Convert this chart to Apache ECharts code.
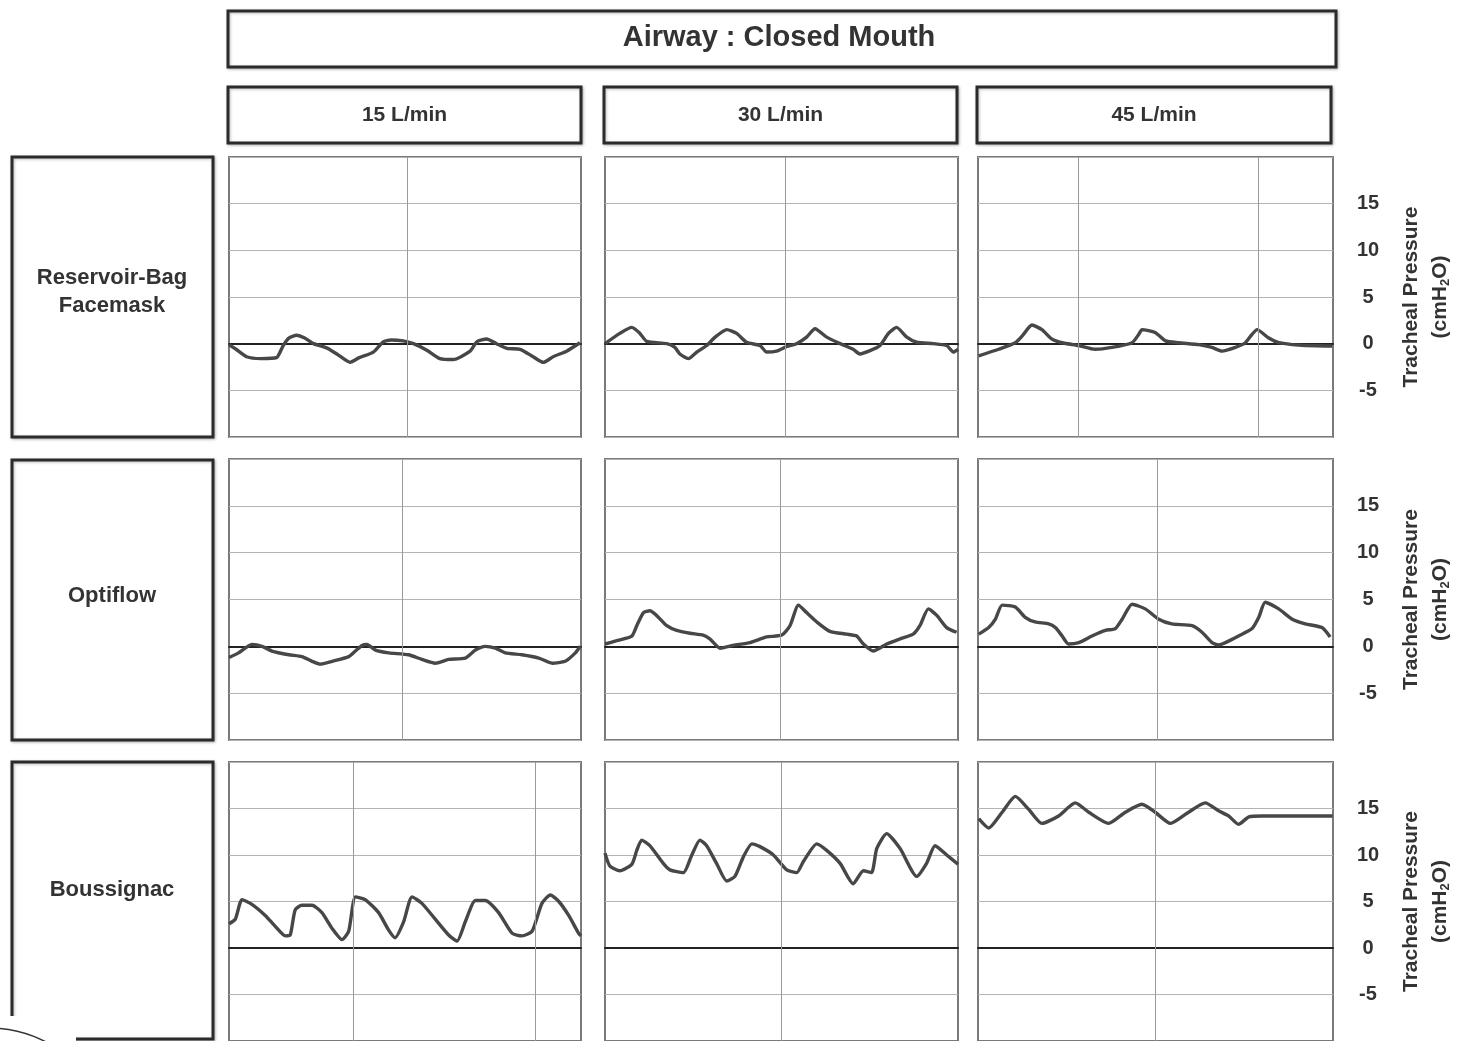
<!DOCTYPE html>
<html>
<head>
<meta charset="utf-8">
<script src="https://cdn.jsdelivr.net/npm/echarts@6/dist/echarts.min.js"></script>
<style>
html,body{margin:0;padding:0;background:#fff;}
#chart{width:1458px;height:1041px;}
</style>
</head>
<body>
<div id="chart"></div>
<script>
// ---------- DATA ----------
const chartTitle = 'Airway : Closed Mouth';
const colNames = ['15 L/min', '30 L/min', '45 L/min'];
const rowNames = ['Reservoir-Bag\nFacemask', 'Optiflow', 'Boussignac'];
const yTickLabels = [-5, 0, 5, 10, 15];
const yAxisTitle = 'Tracheal Pressure';
const yAxisUnit = ['(cmH', '2', 'O)'];

// time (% of panel window) , tracheal pressure (cmH2O)
const bagFace15 = [[0,-0.1],[2,-0.6],[5,-1.4],[9,-1.6],[13.5,-1.5],[15.4,-0.2],[17,0.6],[19.2,0.9],[21.5,0.6],[24,0.0],[28,-0.5],[31,-1.2],[34.4,-2.0],[37,-1.5],[41,-0.9],[43.8,0.2],[46,0.4],[49.5,0.3],[52.4,0.0],[56.2,-0.7],[59.9,-1.6],[63.7,-1.7],[68.5,-0.8],[70.4,0.2],[73.2,0.5],[76,0.0],[78.9,-0.5],[82.7,-0.6],[86.4,-1.4],[89.3,-2.0],[92.1,-1.4],[95.9,-0.8],[99.7,0.1]];
const bagFace30 = [[0,0.0],[4.2,1.1],[7.6,1.75],[9.9,1.1],[11.8,0.25],[17.5,0],[19.8,-0.4],[21.2,-1.1],[23.6,-1.6],[26,-0.9],[28.8,-0.2],[31.2,0.7],[34.5,1.5],[37.3,1.1],[40.1,0.15],[43.9,-0.2],[45.8,-0.9],[48.6,-0.8],[51.5,-0.3],[54.3,0],[57.1,0.7],[59.5,1.6],[62.8,0.7],[66.6,0],[70.3,-0.6],[72.2,-1.1],[75.1,-0.75],[77.9,-0.2],[80.3,1.1],[82.6,1.75],[85.5,0.7],[88.3,0.15],[93,0],[96.8,-0.2],[98.7,-0.9],[100,-0.6]];
const bagFace45 = [[0.2,-1.3],[5.8,-0.6],[10.5,0.1],[12.4,0.8],[15.2,2.0],[18,1.5],[20.8,0.5],[23.7,0.1],[28.4,-0.2],[33,-0.6],[37.7,-0.4],[43.4,0.1],[45.3,1.0],[46.2,1.5],[49.9,1.2],[52.8,0.3],[56.5,0.1],[62.2,-0.1],[65.9,-0.4],[68.7,-0.8],[72.5,-0.4],[75.3,0.1],[77.2,1.0],[78.6,1.5],[81.9,0.6],[84.7,0.1],[88.5,-0.1],[92.2,-0.2],[97.8,-0.25],[99.8,-0.25]];
const optiflow15 = [[0,-1.2],[2.7,-0.7],[6.5,0.2],[9.4,0.0],[12.2,-0.5],[17,-0.9],[20.7,-1.1],[23.6,-1.6],[25.9,-1.9],[29.3,-1.6],[34,-1.1],[35.9,-0.5],[37.8,0.1],[39.2,0.2],[41.6,-0.4],[45.4,-0.7],[51,-0.9],[54.8,-1.4],[58.6,-1.8],[62.4,-1.4],[67.1,-1.25],[70,-0.4],[72.8,0.0],[75.7,-0.2],[78.5,-0.7],[83.2,-0.9],[88,-1.25],[91.8,-1.8],[95.5,-1.6],[98.4,-0.7],[99.8,0.0]];
const optiflow30 = [[0,0.25],[3.3,0.6],[7.6,1.1],[9,2.2],[10.9,3.6],[12.7,3.8],[14.6,3.3],[17.5,2.2],[20.3,1.7],[24.1,1.4],[27.8,1.2],[29.7,0.8],[32.6,-0.2],[36.3,0.1],[41.1,0.4],[45.8,1.0],[50.1,1.2],[52.4,2.2],[54.8,4.4],[57.1,3.6],[60,2.6],[63.7,1.6],[68.5,1.3],[71.3,1.1],[73.2,0.25],[76,-0.5],[79.8,0.25],[83.6,0.8],[87.3,1.3],[89.2,2.2],[91.6,4.0],[94,3.3],[96.8,2.0],[99.6,1.5]];
const optiflow45 = [[0.2,1.3],[3,2.0],[4.9,2.9],[6.8,4.4],[10.5,4.2],[13.3,3.1],[16.1,2.6],[19.9,2.4],[21.8,2.0],[23.7,1.1],[25.5,0.25],[28.4,0.4],[32.1,1.1],[35.9,1.7],[38.7,1.9],[40.6,2.9],[43.4,4.5],[47.1,4.0],[50.9,2.9],[54.6,2.4],[60.3,2.2],[63.1,1.5],[65.9,0.4],[67.8,0.15],[69.7,0.4],[73.4,1.1],[77.2,1.9],[79.1,3.1],[80.9,4.7],[84.7,4.0],[88.5,2.9],[92.2,2.4],[96.9,2.0],[99.2,1.0]];
const boussignac15 = [[0,2.6],[1.8,3.1],[3.7,5.2],[6.5,4.7],[10.3,3.5],[13.2,2.3],[16,1.3],[17.4,1.4],[18.8,4.1],[20.7,4.6],[23.6,4.6],[26.4,3.8],[29.3,2.1],[32.1,0.9],[34,1.8],[35.9,5.5],[38.7,5.2],[42.5,3.8],[45.4,1.9],[47.2,1.1],[49.6,2.8],[52,5.5],[54.8,4.8],[58.6,3.1],[62.4,1.4],[64.8,0.75],[67.1,2.8],[70,5.1],[72.8,5.1],[76.6,3.8],[80.4,1.6],[83.2,1.3],[86.1,1.8],[88.9,4.8],[91.3,5.7],[93.7,5.0],[96.5,3.5],[99.3,1.6],[100,1.3]];
const boussignac30 = [[0,10.2],[1.4,8.8],[4.2,8.3],[7.6,9.0],[9,10.5],[10.4,11.6],[12.7,11.0],[16.5,9.1],[18.4,8.4],[22.2,8.1],[24.6,10.0],[26.9,11.6],[28.8,11.0],[31.6,9.1],[34.5,7.2],[36.8,7.7],[39.2,9.8],[41.6,11.2],[43.9,10.9],[47.7,10.0],[51.5,8.4],[54.3,8.1],[56.2,9.3],[60,11.2],[62.8,10.5],[66.6,9.1],[70.3,6.9],[73.2,8.3],[75.5,8.1],[77,10.7],[79.8,12.3],[83.6,10.7],[88.3,7.7],[91.1,9.1],[93.5,11.0],[96.8,10.0],[100,9.0]];
const boussignac45 = [[0.2,13.9],[3,12.9],[6.8,14.6],[10.5,16.3],[14.3,14.9],[18,13.4],[22.7,14.2],[27.4,15.6],[31.2,14.6],[36.8,13.4],[41.5,14.6],[46.2,15.45],[49.9,14.6],[54.2,13.4],[59.3,14.6],[64,15.6],[67.8,14.75],[70.6,14.2],[73.4,13.3],[76.3,14.1],[80,14.2],[87.5,14.2],[93.2,14.2],[99.9,14.2]];

// vertical time-grid positions (% of window) per panel
const timeGrid = [[50.5],[51],[28.2,78.9],[49.1],[49.6],[50.4],[35.4,87.0],[50],[50]];

// ---------- LAYOUT ----------
const panels = [bagFace15, bagFace30, bagFace45, optiflow15, optiflow30, optiflow45, boussignac15, boussignac30, boussignac45];
const colLeft = [229, 605, 978];
const colWidth = [352, 353, 355];
const rowTop = [157, 459, 762];
const rowHeight = [280, 281, 284];
const FONT = '"Liberation Sans", Arial, sans-serif';

const chart = echarts.init(document.getElementById('chart'), null, {renderer: 'canvas'});

const grids = [], xAxes = [], yAxes = [], series = [];
for (let r = 0; r < 3; r++) {
  for (let c = 0; c < 3; c++) {
    const i = r * 3 + c;
    grids.push({
      left: colLeft[c], top: rowTop[r], width: colWidth[c], height: rowHeight[r],
      show: true, borderColor: '#7a7a7a', borderWidth: 2, backgroundColor: 'transparent', containLabel: false
    });
    xAxes.push({
      type: 'value', gridIndex: i, min: 0, max: 100,
      axisLine: {show: true, onZero: true, lineStyle: {color: '#222', width: 2}},
      axisTick: {show: false}, axisLabel: {show: false}, splitLine: {show: false}
    });
    const isRight = c === 2;
    yAxes.push({
      type: 'value', gridIndex: i, min: -10, max: 20, interval: 5,
      position: 'right',
      axisLine: {show: false}, axisTick: {show: false},
      axisLabel: {
        show: isRight, margin: 35, align: 'center',
        color: '#333', fontSize: 20, fontWeight: 'bold', fontFamily: FONT,
        formatter: v => yTickLabels.includes(v) ? String(v) : ''
      },
      splitLine: {show: true, lineStyle: {color: '#b3b3b3', width: 1}},
      name: isRight ? '{t|' + yAxisTitle + '}\n{t|' + yAxisUnit[0] + '}{s|' + yAxisUnit[1] + '}{t|' + yAxisUnit[2] + '}' : '',
      nameLocation: 'middle', nameRotate: 90, nameGap: 64,
      nameTextStyle: {
        rich: {
          t: {fontSize: 21, fontWeight: 'bold', color: '#333', fontFamily: FONT, lineHeight: 29},
          s: {fontSize: 13, fontWeight: 'bold', color: '#333', fontFamily: FONT, lineHeight: 29, padding: [10, 0, 0, 0]}
        }
      }
    });
    series.push({
      type: 'line', xAxisIndex: i, yAxisIndex: i,
      data: panels[i], showSymbol: false, smooth: 0.2,
      lineStyle: {color: '#474747', width: 3.4},
      clip: true, silent: true, z: 3,
      markLine: {
        silent: true, symbol: 'none', label: {show: false},
        lineStyle: {color: '#9a9a9a', width: 1, type: 'solid'},
        data: timeGrid[i].map(t => ({xAxis: t}))
      }
    });
  }
}

const graphics = [];
function box(x, y, w, h, text, fs, cx, cy) {
  graphics.push({
    type: 'rect', shape: {x: x, y: y, width: w, height: h},
    style: {fill: '#fff', stroke: '#2b2b2b', lineWidth: 3, shadowBlur: 3, shadowColor: 'rgba(0,0,0,0.25)', shadowOffsetX: 1, shadowOffsetY: 1},
    z: 1
  });
  graphics.push({
    type: 'text', x: cx, y: cy, z: 2,
    style: {text: text, fill: '#333', font: 'bold ' + fs + 'px ' + FONT, align: 'center', verticalAlign: 'middle', lineHeight: fs + 6}
  });
}
box(228, 11, 1108, 56, chartTitle, 29, 779, 38);
const hdrX = [228, 604, 977], hdrW = [353, 353, 354];
for (let c = 0; c < 3; c++) box(hdrX[c], 87, hdrW[c], 56, colNames[c], 21, hdrX[c] + hdrW[c] / 2, 115);
const rowLabelY = [292, 596, 890];
const rowBoxY = [157, 460, 762];
const rowBoxH = [280, 280, 277];
for (let r = 0; r < 3; r++) box(12, rowBoxY[r], 201, rowBoxH[r], rowNames[r], 22, 112, rowLabelY[r]);
// corner logo fragment
graphics.push({type: 'rect', shape: {x: 0, y: 1016, width: 76, height: 30}, style: {fill: '#fff'}, z: 5});
graphics.push({type: 'circle', shape: {cx: -10, cy: 1147, r: 119}, style: {fill: 'none', stroke: '#333', lineWidth: 1.5}, z: 6});

chart.setOption({
  animation: false,
  backgroundColor: '#fff',
  grid: grids, xAxis: xAxes, yAxis: yAxes, series: series,
  graphic: graphics
});
</script>
</body>
</html>
